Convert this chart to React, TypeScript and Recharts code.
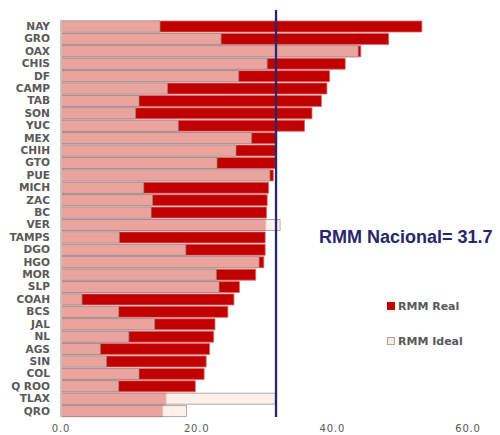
import React from 'react';
import { BarChart, Bar, XAxis, YAxis, ReferenceLine } from 'recharts';

const states = [
  'NAY', 'GRO', 'OAX', 'CHIS', 'DF', 'CAMP', 'TAB', 'SON', 'YUC', 'MEX', 'CHIH', 'GTO', 'PUE', 'MICH', 'ZAC', 'BC',
  'VER', 'TAMPS', 'DGO', 'HGO', 'MOR', 'SLP', 'COAH', 'BCS', 'JAL', 'NL', 'AGS', 'SIN', 'COL', 'Q ROO', 'TLAX', 'QRO',
];

const rmmReal = [
  53.2, 48.3, 44.2, 41.9, 39.6, 39.2, 38.4, 37.0, 35.9, 31.8, 31.6, 31.6, 31.3, 30.6, 30.4, 30.3,
  30.2, 30.1, 30.1, 29.9, 28.7, 26.3, 25.5, 24.6, 22.7, 22.5, 21.9, 21.4, 21.1, 19.8, 15.5, 15.0,
];

const rmmIdeal = [
  14.6, 23.6, 43.8, 30.4, 26.2, 15.7, 11.5, 11.0, 17.3, 28.1, 25.8, 23.0, 30.8, 12.2, 13.5, 13.3,
  32.3, 8.6, 18.4, 29.2, 22.9, 23.3, 3.1, 8.5, 13.8, 10.0, 5.8, 6.7, 11.5, 8.5, 31.6, 18.5,
];

const xTicks = [0, 20, 40, 60];
const rmmNacional = 31.7;

const data = states.map((s, i) => ({ state: s, real: rmmReal[i], ideal: rmmIdeal[i] }));

const REAL = '#C00000';
const IDEAL = '#FCE9DF';
const NAVY = '#27276B';
const GREY = '#595959';

function LegendBox() {
  const row = (label: string, fill: string, border: string) => (
    <div style={{ display: 'flex', alignItems: 'center', height: 14 }}>
      <span
        style={{
          display: 'inline-block',
          width: 6,
          height: 6,
          background: fill,
          border: `1px solid ${border}`,
          marginRight: 3,
        }}
      />
      <span style={{ fontFamily: 'DejaVu Sans', fontWeight: 'bold', fontSize: 11, color: GREY }}>{label}</span>
    </div>
  );
  return (
    <div style={{ position: 'absolute', left: 387, top: 299 }}>
      {row('RMM Real', REAL, REAL)}
      <div style={{ height: 21 }} />
      {row('RMM Ideal', IDEAL, '#A6A6A6')}
    </div>
  );
}

export default function App() {
  return (
    <div style={{ position: 'absolute', left: 0, top: 0, width: 500, height: 435, background: '#fff' }}>
      <BarChart
        width={500}
        height={435}
        data={data}
        layout="vertical"
        barSize={11}
        margin={{ top: 20, right: 32, left: 0, bottom: 0 }}
      >
        <XAxis
          type="number"
          domain={[0, 60]}
          ticks={xTicks}
          tickFormatter={(v: number) => v.toFixed(1)}
          axisLine={false}
          tickLine={false}
          tickMargin={2}
          height={18}
          tick={{ fontSize: 10, fill: GREY, fontFamily: 'DejaVu Sans', letterSpacing: 0.8 }}
        />
        <YAxis
          yAxisId="real"
          type="category"
          dataKey="state"
          width={61}
          interval={0}
          tickLine={false}
          tickMargin={5}
          axisLine={{ stroke: '#C8C8C8', strokeWidth: 1.5 }}
          tick={{ fontSize: 10.6, fill: GREY, fontWeight: 'bold', fontFamily: 'DejaVu Sans' }}
        />
        <YAxis yAxisId="ideal" type="category" dataKey="state" orientation="right" width={0} hide />
        <Bar
          yAxisId="real"
          dataKey="real"
          fill={REAL}
          stroke="#E06666"
          strokeWidth={0.8}
          isAnimationActive={false}
        />
        <Bar
          yAxisId="ideal"
          dataKey="ideal"
          fill={IDEAL}
          fillOpacity={0.7}
          stroke="#8C8C8C"
          strokeOpacity={0.7}
          strokeWidth={1}
          isAnimationActive={false}
        />
        <ReferenceLine
          yAxisId="real"
          x={rmmNacional}
          ifOverflow="visible"
          shape={(p: any) => (
            <line
              x1={p.x1}
              x2={p.x2}
              y1={Math.min(p.y1, p.y2) - 10}
              y2={Math.max(p.y1, p.y2)}
              stroke={NAVY}
              strokeWidth={2.3}
            />
          )}
        />
      </BarChart>
      <LegendBox />
      <div
        style={{
          position: 'absolute',
          left: 319,
          top: 227,
          fontFamily: 'Liberation Sans, Arial, sans-serif',
          fontWeight: 'bold',
          fontSize: 18,
          color: NAVY,
          whiteSpace: 'nowrap',
        }}
      >
        RMM Nacional= 31.7
      </div>
    </div>
  );
}
